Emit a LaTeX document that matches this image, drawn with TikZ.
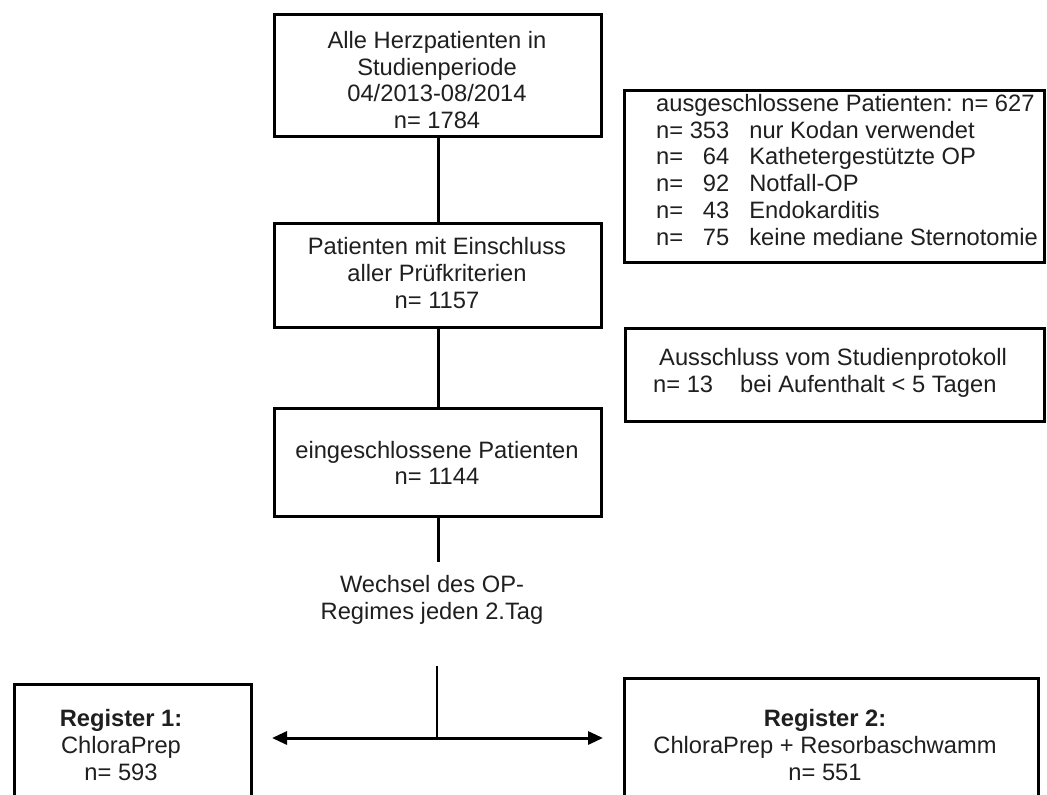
\documentclass[tikz,border=0pt]{standalone}
\usepackage{fontspec}
\setmainfont{Liberation Sans}
\usetikzlibrary{arrows.meta}
\begin{document}
\begin{tikzpicture}[x=1pt,y=-1pt,
  box/.style={draw=black, line width=3.4pt, inner sep=0pt, anchor=north west},
  txt/.style={font=\fontsize{23.7pt}{26.8pt}\selectfont, align=center, inner sep=0pt, text=black!88},
  conn/.style={line width=3.4pt},
  thinconn/.style={line width=2.6pt},
  arr/.style={line width=3pt, -{Triangle[length=15pt,width=13pt]}}]
\clip (0,0) rectangle (1047,795);
\fill[white] (0,0) rectangle (1047,795);
% boxes
\node[box, minimum width=327pt, minimum height=122pt] (b1) at (273,13) {};
\node[box, minimum width=327pt, minimum height=104pt] (b2) at (273,222) {};
\node[box, minimum width=327pt, minimum height=108pt] (b3) at (273,407) {};
\node[box, minimum width=420pt, minimum height=172pt] (e1) at (623,89) {};
\node[box, minimum width=419pt, minimum height=93pt] (e2) at (624,327) {};
\node[box, minimum width=237pt, minimum height=150pt] (r1) at (13,683) {};
\node[box, minimum width=414pt, minimum height=150pt] (r2) at (623,677) {};
% texts
\node[txt] (t1) at (437,80) {Alle Herzpatienten in\\Studienperiode\\04/2013-08/2014\\n= 1784};
\node[txt] (t2) at (437,273) {Patienten mit Einschluss\\aller Prüfkriterien\\n= 1157};
\node[txt] (t3) at (437,463) {eingeschlossene Patienten\\n= 1144};
\node[txt, anchor=west, align=left] (te1) at (656,173) {%
  \begin{tabular}{@{}l@{\hspace{6.6pt}}r@{\hspace{20pt}}l@{}}
  \multicolumn{3}{@{}l@{}}{ausgeschlossene Patienten: n= 627}\\
  n= & 353 & nur Kodan verwendet\\
  n= & 64 & Kathetergestützte OP\\
  n= & 92 & Notfall-OP\\
  n= & 43 & Endokarditis\\
  n= & 75 & keine mediane Sternotomie
  \end{tabular}};
\node[txt, anchor=west, align=left] (te2) at (653,374) {%
  \begin{tabular}{@{}l@{\hspace{27pt}}l@{}}
  \multicolumn{2}{@{}l@{}}{\hspace{6pt}Ausschluss vom Studienprotokoll}\\
  n= 13 & bei Aufenthalt < 5 Tagen
  \end{tabular}};
\node[txt] (tw) at (432,600) {Wechsel des OP-\\Regimes jeden 2.Tag};
\node[txt] (r1t) at (121,745) {\bfseries Register 1:\\ChloraPrep\\n= 593};
\node[txt] (r2t) at (825,745) {\bfseries Register 2:\\ChloraPrep + Resorbaschwamm\\n= 551};
% connectors
\coordinate (c1) at (437,562);
\coordinate (c2) at (437,666);
\coordinate (split) at (437,738);
\coordinate (la) at (272,738);
\coordinate (ra) at (603,738);
\draw[conn] (b1.south) -- (b2.north);
\draw[conn] (b2.south) -- (b3.north);
\draw[conn] (b3.south) -- (b3.south |- c1);
\draw[thinconn] (c2) -- (split);
\draw[arr] (split) -- (la);
\draw[arr] (split) -- (ra);
\end{tikzpicture}
\end{document}
